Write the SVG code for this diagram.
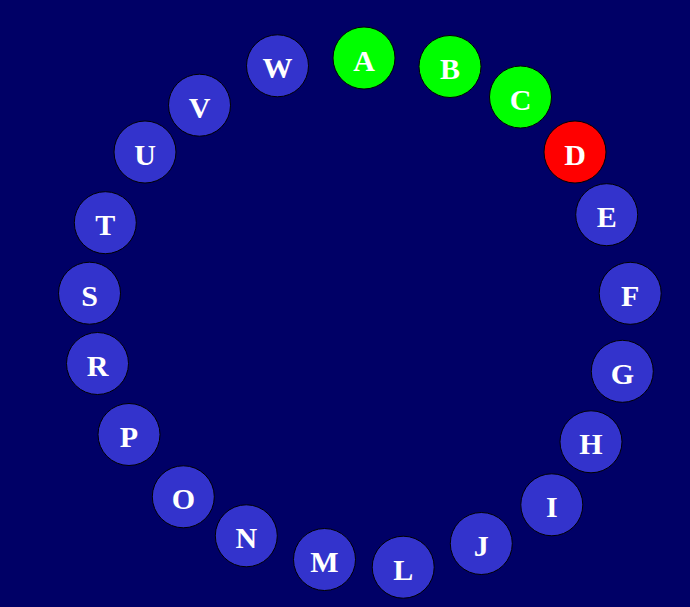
<svg xmlns="http://www.w3.org/2000/svg" width="690" height="607" viewBox="0 0 690 607">
<style>
.n circle{stroke:#000;stroke-width:1;fill:#3333cc}
.g circle{fill:#00ff00}
.r circle{fill:#ff0000}
.n text{font-family:"Liberation Serif","Times New Roman",serif;font-weight:bold;font-size:30px;fill:#fff;text-anchor:middle}
</style>
<rect width="690" height="607" fill="#000066"/>
<g id="connectors"/>
<g id="A" class="n g"><circle cx="364" cy="58" r="31"/><text x="364" y="70.5">A</text></g>
<g id="B" class="n g"><circle cx="450" cy="66.5" r="31"/><text x="450" y="79">B</text></g>
<g id="C" class="n g"><circle cx="520.5" cy="97" r="31"/><text x="520.5" y="109.5">C</text></g>
<g id="D" class="n r"><circle cx="575" cy="152" r="31"/><text x="575" y="164.5">D</text></g>
<g id="E" class="n"><circle cx="606.7" cy="214.7" r="31"/><text x="606.7" y="227.2">E</text></g>
<g id="F" class="n"><circle cx="630.2" cy="293.3" r="31"/><text x="630.2" y="305.8">F</text></g>
<g id="G" class="n"><circle cx="622.3" cy="371.3" r="31"/><text x="622.3" y="383.8">G</text></g>
<g id="H" class="n"><circle cx="591" cy="441.8" r="31"/><text x="591" y="454.3">H</text></g>
<g id="I" class="n"><circle cx="551.8" cy="504.8" r="31"/><text x="551.8" y="517.3">I</text></g>
<g id="J" class="n"><circle cx="481.3" cy="543.5" r="31"/><text x="481.3" y="556">J</text></g>
<g id="L" class="n"><circle cx="403.2" cy="567.2" r="31"/><text x="403.2" y="579.7">L</text></g>
<g id="M" class="n"><circle cx="324.5" cy="559.5" r="31"/><text x="324.5" y="572">M</text></g>
<g id="N" class="n"><circle cx="246.3" cy="535.8" r="31"/><text x="246.3" y="548.3">N</text></g>
<g id="O" class="n"><circle cx="183.3" cy="496.8" r="31"/><text x="183.3" y="509.3">O</text></g>
<g id="P" class="n"><circle cx="129" cy="434.5" r="31"/><text x="129" y="447">P</text></g>
<g id="R" class="n"><circle cx="97.5" cy="363.5" r="31"/><text x="97.5" y="376">R</text></g>
<g id="S" class="n"><circle cx="89.5" cy="293.2" r="31"/><text x="89.5" y="305.7">S</text></g>
<g id="T" class="n"><circle cx="105.3" cy="222.7" r="31"/><text x="105.3" y="235.2">T</text></g>
<g id="U" class="n"><circle cx="145" cy="152" r="31"/><text x="145" y="164.5">U</text></g>
<g id="V" class="n"><circle cx="199.5" cy="105.2" r="31"/><text x="199.5" y="117.7">V</text></g>
<g id="W" class="n"><circle cx="277.5" cy="65.8" r="31"/><text x="277.5" y="78.3">W</text></g>
</svg>
